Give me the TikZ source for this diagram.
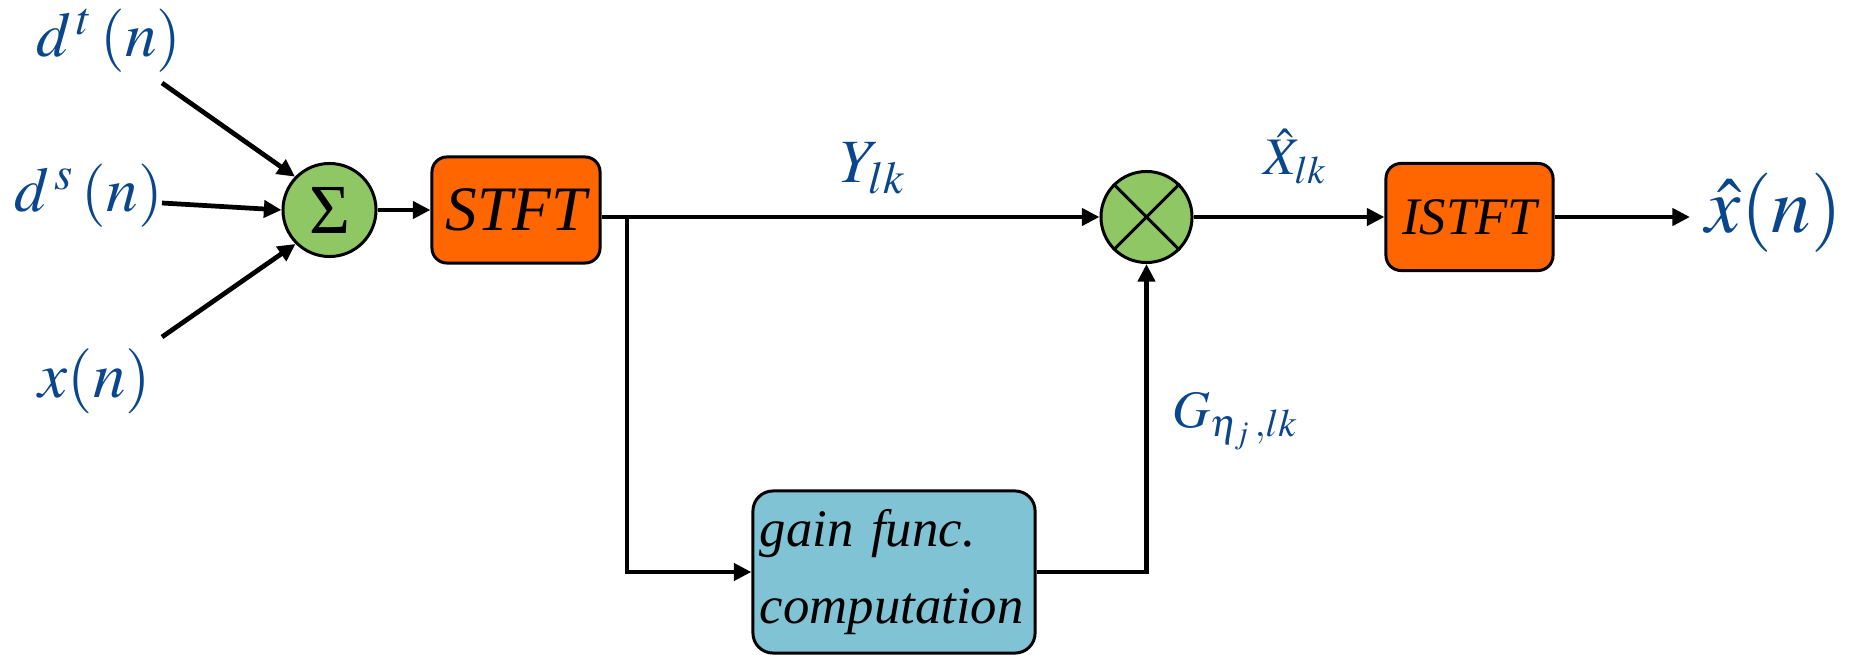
\documentclass[tikz,border=0pt]{standalone}
\usepackage{mathptmx}
\usepackage{fontspec}
\setmainfont{Liberation Serif}
\usetikzlibrary{arrows.meta}
\definecolor{orangebox}{RGB}{255,102,0}
\definecolor{greenc}{RGB}{143,199,100}
\definecolor{bluebox}{RGB}{127,195,212}
\definecolor{txtblue}{RGB}{10,70,140}
\begin{document}
\begin{tikzpicture}[x=0.01cm,y=-0.01cm,
  conn/.style={line width=1.35pt},
  arr/.style={conn,-{Triangle[length=5pt,width=4.8pt]}},
  blockbox/.style={draw=black,line width=0.85pt,rounded corners=0.15cm,fill=orangebox,font=\fontsize{18}{20}\selectfont\itshape,inner sep=0pt},
  opcirc/.style={circle,draw=black,line width=0.85pt,fill=greenc,inner sep=0pt},
  lbl/.style={text=txtblue,inner sep=0pt,anchor=base west}]
\useasboundingbox (0,0) rectangle (1858,655);

% blocks
\node[opcirc,minimum size=0.93cm,font=\fontsize{20}{22}\selectfont] (sum) at (329.5,210) {Σ};
\node[blockbox,minimum width=1.68cm,minimum height=1.06cm] (stft) at (516,210) {STFT};
\node[opcirc,minimum size=0.91cm] (mul) at (1146.5,217) {};
\node[blockbox,minimum width=1.67cm,minimum height=1.07cm,font=\fontsize{15}{18}\selectfont\itshape] (istft) at (1469.5,217) {ISTFT};
\node[draw=black,line width=0.85pt,rounded corners=0.2cm,fill=bluebox,minimum width=2.82cm,minimum height=1.62cm,text width=2.68cm,inner xsep=0.07cm,align=left,font=\fontsize{15}{22}\selectfont\itshape] (gain) at (894,572) {gain func.\\computation};

% labels
\node[lbl,font=\fontsize{18}{20}\selectfont] (dt) at (36,57) {$d^{\,t}\,(n)$};
\node[lbl,font=\fontsize{18}{20}\selectfont] (ds) at (14,212) {$d^{\,s}\,(n)$};
\node[lbl,font=\fontsize{18.5}{20}\selectfont] (xn) at (38,397) {$x(n)$};
\node[lbl,font=\fontsize{17.5}{20}\selectfont] (ylab) at (840,183) {$Y_{lk}$};
\node[lbl,font=\fontsize{15}{18}\selectfont] (xhlab) at (1263,175) {$\hat{X}_{lk}$};
\node[lbl,font=\fontsize{22.5}{26}\selectfont] (xout) at (1705,233) {$\hat{x}(n)$};
\node[lbl,font=\fontsize{15}{18}\selectfont] (glab) at (1172,428) {$G_{\eta_j\,,lk}$};

% free ends
\coordinate (in1) at (162,83);
\coordinate (in2) at (162,203);
\coordinate (in3) at (162,337);
\coordinate (br) at (627,217);

% connectors
\draw[arr] (in1) -- (sum.136);
\draw[arr] (in2) -- (sum.180);
\draw[arr] (in3) -- (sum.225);
\draw[arr] (sum) -- (stft);
\draw[arr] (stft.east |- br) -- (mul);
\draw[arr] (br) |- (gain.west);
\draw[arr] (gain.east) -| (mul.south);
\draw[arr] (mul) -- (istft);
\draw[arr,shorten >=0.15cm] (istft.east) -- (istft.east -| xout.west);
\draw[line width=0.85pt] (mul.45) -- (mul.225) (mul.135) -- (mul.315);
\end{tikzpicture}
\end{document}
